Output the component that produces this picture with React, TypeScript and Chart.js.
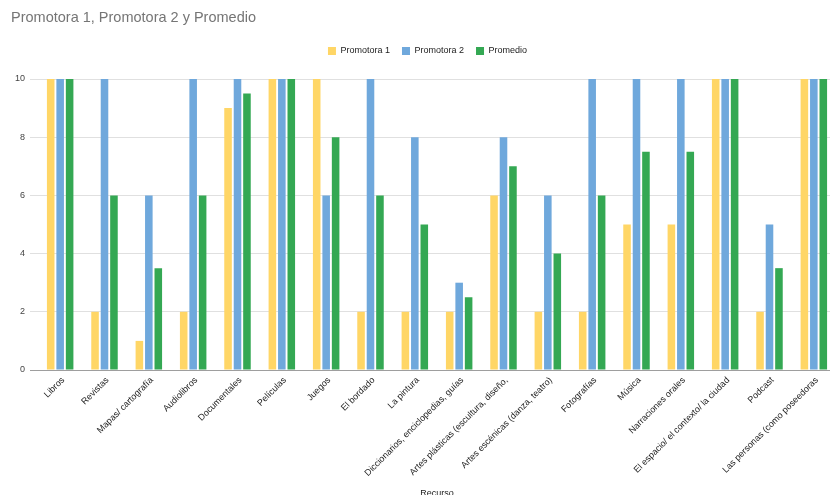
import React, { useEffect, useRef } from "react";
import { Chart, registerables } from "chart.js";

Chart.register(...registerables);

const categories = [
  "Libros",
  "Revistas",
  "Mapas/ cartografía",
  "Audiolibros",
  "Documentales",
  "Películas",
  "Juegos",
  "El bordado",
  "La pintura",
  "Diccionarios, enciclopedias, guías",
  "Artes plásticas (escultura, diseño,",
  "Artes escénicas (danza, teatro)",
  "Fotografías",
  "Música",
  "Narraciones orales",
  "El espacio/ el contexto/ la ciudad",
  "Podcast",
  "Las personas (como poseedoras",
];

const promotora1 = [10, 2, 1, 2, 9, 10, 10, 2, 2, 2, 6, 2, 2, 5, 5, 10, 2, 10];
const promotora2 = [10, 10, 6, 10, 10, 10, 6, 10, 8, 3, 8, 6, 10, 10, 10, 10, 5, 10];
const promedio = [10, 6, 3.5, 6, 9.5, 10, 8, 6, 5, 2.5, 7, 4, 6, 7.5, 7.5, 10, 3.5, 10];

const seriesNames = ["Promotora 1", "Promotora 2", "Promedio"];
const yTicks = [0, 2, 4, 6, 8, 10];
const chartTitle = "Promotora 1, Promotora 2 y Promedio";
const xTitle = "Recurso";

const FONT = "'Liberation Sans', Arial, sans-serif";

const legendSpacer = {
  id: "legendSpacer",
  beforeLayout(chart: any) {
    const l = chart.legend;
    if (l && !l._spacerPatched) {
      const orig = l.fit.bind(l);
      l.fit = function () {
        orig();
        this.height += 13.5;
      };
      l._spacerPatched = true;
    }
  },
};

export default function App() {
  const ref = useRef<HTMLCanvasElement | null>(null);

  useEffect(() => {
    if (!ref.current) return;
    const chart = new Chart(ref.current, {
      type: "bar",
      data: {
        labels: categories,
        datasets: [
          { label: seriesNames[0], data: promotora1, backgroundColor: "#FFD666", borderWidth: 0 },
          { label: seriesNames[1], data: promotora2, backgroundColor: "#6FA8DC", borderWidth: 0 },
          { label: seriesNames[2], data: promedio, backgroundColor: "#34A853", borderWidth: 0 },
        ],
      },
      plugins: [legendSpacer],
      options: {
        responsive: false,
        maintainAspectRatio: false,
        animation: false,
        layout: { padding: { left: 11, right: 0, top: 0, bottom: 0 } },
        datasets: {
          bar: { categoryPercentage: 0.64, barPercentage: 0.8 },
        },
        plugins: {
          title: {
            display: true,
            text: chartTitle,
            align: "start",
            color: "#757575",
            font: { family: FONT, size: 14.5, weight: "normal" },
            padding: { top: 9, bottom: 8.1 },
          },
          legend: {
            display: true,
            position: "top",
            labels: {
              boxWidth: 8,
              boxHeight: 8,
              padding: 12,
              color: "#222222",
              font: { family: FONT, size: 9 },
            },
          },
          tooltip: { enabled: false },
        },
        scales: {
          x: {
            grid: { display: false, drawTicks: false },
            border: { display: false },
            ticks: {
              autoSkip: false,
              minRotation: 45,
              maxRotation: 45,
              padding: 5,
              labelOffset: 3,
              color: "#222222",
              font: { family: FONT, size: 9 },
            },
            title: {
              display: true,
              text: xTitle,
              color: "#222222",
              font: { family: FONT, size: 9 },
              padding: { top: 0, bottom: 6 },
            },
            afterFit: (s: any) => {
              s.height = 135;
            },
          },
          y: {
            min: 0,
            max: 10,
            afterBuildTicks: (s: any) => {
              s.ticks = yTicks.map((v) => ({ value: v }));
            },
            grid: {
              color: (c: any) => (c.tick && c.tick.value === 0 ? "#9E9E9E" : "#E0E0E0"),
              lineWidth: 1,
              drawTicks: true,
              tickLength: 8,
            },
            border: { display: false },
            ticks: {
              padding: 5,
              color: "#444444",
              font: { family: FONT, size: 9 },
            },
            afterFit: (s: any) => {
              s.width = 27;
            },
          },
          yRight: {
            type: "linear",
            position: "right",
            display: true,
            grid: { display: false, drawTicks: false },
            border: { display: false },
            ticks: { display: false },
            afterFit: (s: any) => {
              s.width = 8;
            },
          },
        },
      } as any,
    });
    return () => chart.destroy();
  }, []);

  return (
    <div
      style={{
        position: "fixed",
        left: 0,
        top: 0,
        width: 830,
        height: 495,
        overflow: "hidden",
        background: "#ffffff",
      }}
    >
      <canvas ref={ref} width={844} height={505} style={{ display: "block" }} />
    </div>
  );
}
